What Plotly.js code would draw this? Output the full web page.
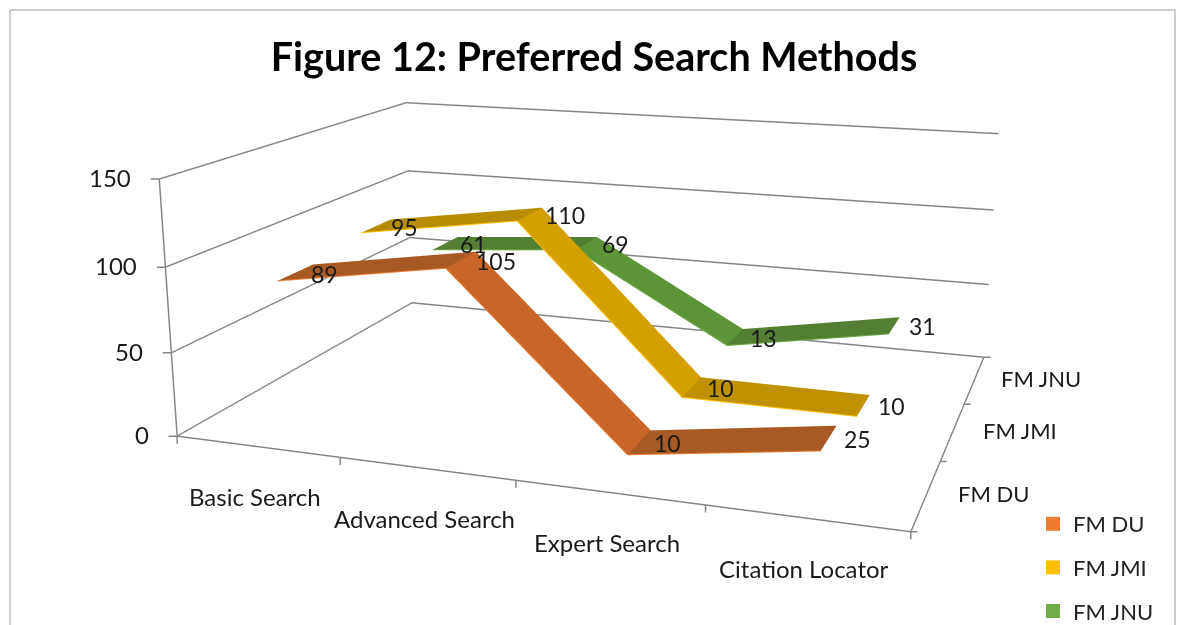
<!DOCTYPE html>
<html><head><meta charset="utf-8">
<script src="https://cdn.plot.ly/plotly-3.0.1.min.js"></script>
<style>html,body{margin:0;padding:0;background:#fff;overflow:hidden;width:1178px;height:625px}
#c{position:absolute;left:-411px;top:-375px;width:2000px;height:1365px}</style></head>
<body><div id="c"></div>
<script>
const categories=["Basic Search","Advanced Search","Expert Search","Citation Locator"];
const seriesNames=["FM DU","FM JMI","FM JNU"];
const fmDU=[89,105,10,25];
const fmJMI=[95,110,10,10];
const fmJNU=[61,69,13,31];
const zTicks=[0,50,100,150];
const legendColors=["#ED7D31","#FFC000","#70AD47"];
const segmentColors=[["#A85A24","#C8662A","#A85A24"],["#B88C00","#D4A000","#BF9000"],["#547E32","#5E9438","#547E32"]];
const values=[fmDU,fmJMI,fmJNU];
const W=2000,H=1365,OX=411,OY=375;
const px=s=>(s+OX)/W, py=s=>1-(s+OY)/H;
const xs=[0.5,1.5,2.5,3.5];
const halfDepth=0.2;
const FONT='Lato, sans-serif', GREY='#858585';
const traces=[],ann=[];
const label=(x,y,z,text,xshift,yshift,xanchor,size)=>ann.push({x,y,z,text,showarrow:false,xshift,yshift,xanchor:xanchor||'center',yanchor:'middle',font:{family:FONT,size:size||22,color:'#1a1a1a'}});
const tick=(x,y,z,ax,ay)=>ann.push({x,y,z,text:'',showarrow:true,arrowhead:0,arrowwidth:1.5,arrowcolor:GREY,standoff:0,ax,ay});
values.forEach((v,i)=>{
  const yc=i+0.5,y0=yc-halfDepth,y1=yc+halfDepth;
  const mx=[],my=[],mz=[],I=[],J=[],K=[];
  v.forEach((val,k)=>{mx.push(xs[k],xs[k]);my.push(y0,y1);mz.push(val,val);});
  for(let k=0;k<v.length-1;k++){const a=2*k;I.push(a,a+1);J.push(a+1,a+3);K.push(a+2,a+2);}
  traces.push({type:'mesh3d',x:mx,y:my,z:mz,i:I,j:J,k:K,
    facecolor:segmentColors[i].flatMap(c=>[c,c]),flatshading:true,
    lighting:{ambient:1,diffuse:0,specular:0,roughness:1,fresnel:0},showlegend:false,hoverinfo:'skip'});
  traces.push({type:'scatter3d',mode:'lines',x:xs,y:v.map(()=>y0),z:v,line:{color:legendColors[i],width:2},showlegend:false,hoverinfo:'skip'});
  v.forEach((val,k)=>label(xs[k],yc,val,String(val),13,-1,'left',23));
  traces.push({type:'scatter3d',mode:'markers',x:[null],y:[null],z:[null],name:seriesNames[i],legendgroup:seriesNames[i],
    marker:{symbol:'square',size:14,color:legendColors[i]},showlegend:true});
});
categories.forEach((c,k)=>label(xs[k],0,0,c,-2,-50,'center',24));
seriesNames.forEach((s,i)=>label(4,i+0.5,0,s,67,1));
zTicks.forEach(t=>{label(0,0,t,String(t),-26,1.5,'right',24);tick(0,0,t,-10,0);});
[0,1,2,3,4].forEach(t=>tick(t,0,0,0,9));
[0,1,2,3].forEach(t=>tick(4,t,0,8,0));
const ax={showbackground:false,showgrid:false,gridcolor:GREY,gridwidth:3,linecolor:GREY,linewidth:3,showline:true,zeroline:false,ticks:'',showticklabels:false,title:{text:''},showspikes:false};
Plotly.newPlot('c',traces,{
  width:W,height:H,paper_bgcolor:'#fff',margin:{l:0,r:0,t:0,b:0,pad:0},
  title:{text:'<b>Figure 12: Preferred Search Methods</b>',x:px(594),xanchor:'center',y:py(57),yanchor:'middle',font:{family:FONT,size:39.5,color:'#000'}},
  scene:{
    domain:{x:[0,1],y:[0,1]},
    aspectmode:'manual',aspectratio:{x:0.7317,y:0.5465,z:0.2617},
    xaxis:{...ax,range:[0,4],tickvals:[0,1,2,3,4]},
    yaxis:{...ax,range:[0,3],tickvals:[0,1,2,3]},
    zaxis:{...ax,showgrid:true,range:[0,150],tickvals:zTicks},
    camera:{eye:{x:0.5434,y:-1.6075,z:0.427},center:{x:-0.0188,y:-0.0155,z:-0.0318},up:{x:0,y:0,z:1}},
    annotations:ann
  },
  showlegend:true,
  legend:{x:px(1033),y:py(503),xanchor:'left',yanchor:'top',tracegroupgap:12,itemwidth:30,font:{family:FONT,size:22,color:'#222'},bgcolor:'rgba(0,0,0,0)'},
  shapes:[{type:'rect',xref:'paper',yref:'paper',x0:px(10),x1:px(1175),y0:py(700),y1:py(10),line:{color:'#9a9a9a',width:1}}]
},{displayModeBar:false});
</script></body></html>
